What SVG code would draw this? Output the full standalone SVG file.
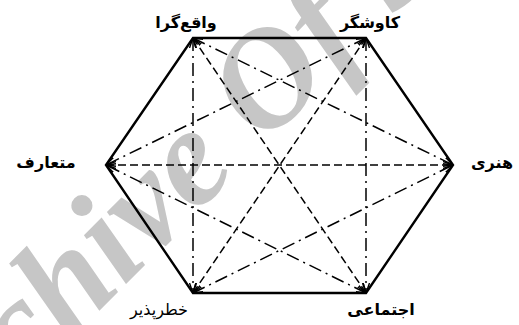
<svg xmlns="http://www.w3.org/2000/svg" width="519" height="325" viewBox="0 0 519 325">
<style>
.wm{font-family:"Liberation Serif",serif;font-weight:bold;font-style:italic;font-size:140px;fill:#c6c6c6}
.lbl{font-family:"DejaVu Sans",sans-serif;font-size:16px;font-weight:bold;fill:#000;text-anchor:middle}
.lblr{font-family:"DejaVu Sans",sans-serif;font-size:16px;font-weight:normal;fill:#000;text-anchor:middle}
.hex{fill:none;stroke:#000;stroke-width:2.4;stroke-linejoin:miter}
.c{stroke:#000;stroke-width:1.5;fill:none;marker-start:url(#ah);marker-end:url(#ah)}
.dd{stroke-dasharray:13 5 2 5}
.da{stroke-dasharray:8 4}
</style>
<defs>
<marker id="ah" viewBox="0 0 10 8" refX="10" refY="4" markerWidth="10" markerHeight="8" markerUnits="userSpaceOnUse" orient="auto-start-reverse">
<path d="M0,0.5 L10,4 L0,7.5" fill="none" stroke="#000" stroke-width="1.4" stroke-dasharray="none"/>
</marker>
</defs>
<rect width="519" height="325" fill="#fff"/>
<text class="wm" transform="translate(-80,490) rotate(-45)">Archive Of SID</text>
<g id="hexagon">
<polygon class="hex" points="193,38 366,38 453,165 366,293 193,293 106,165"/>
</g>
<g id="connectors">
<line class="c dd" x1="193" y1="38" x2="193" y2="293"/>
<line class="c dd" x1="366" y1="38" x2="366" y2="293"/>
<line class="c da" x1="106" y1="165" x2="453" y2="165"/>
<line class="c da" x1="193" y1="38" x2="366" y2="293"/>
<line class="c da" x1="366" y1="38" x2="193" y2="293"/>
<line class="c dd" x1="193" y1="38" x2="453" y2="165"/>
<line class="c dd" x1="366" y1="38" x2="106" y2="165"/>
<line class="c dd" x1="193" y1="293" x2="453" y2="165"/>
<line class="c dd" x1="366" y1="293" x2="106" y2="165"/>
</g>
<g id="node-realist"><text class="lbl" x="186" y="28">واقع‌گرا</text></g>
<g id="node-explorer"><text class="lbl" x="370" y="28">کاوشگر</text></g>
<g id="node-conventional"><text class="lbl" x="46" y="168">متعارف</text></g>
<g id="node-artistic"><text class="lbl" x="492" y="168">هنری</text></g>
<g id="node-social"><text class="lbl" x="381" y="315">اجتماعی</text></g>
<g id="node-risktaker"><text class="lblr" x="159" y="315">خطرپذیر</text></g>
</svg>
